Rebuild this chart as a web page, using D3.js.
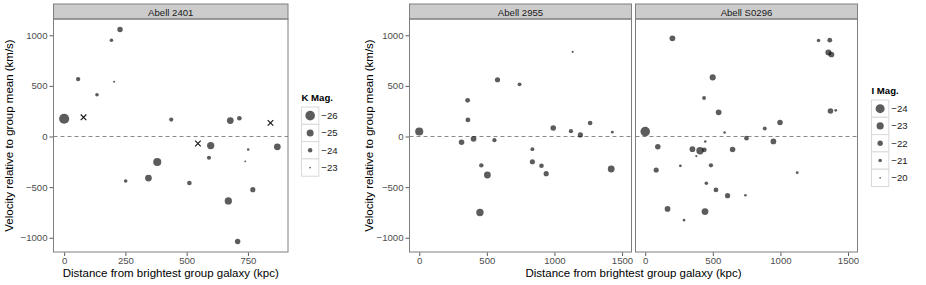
<!DOCTYPE html>
<html>
<head>
<meta charset="utf-8">
<script src="https://cdn.jsdelivr.net/npm/d3@7"></script>
<style>
  body { margin: 0; background: #fff; }
  svg text { font-family: "Liberation Sans", Arial, Helvetica, sans-serif; }
</style>
</head>
<body>
<div id="chart"></div>
<script>
// Abell 2401, K band magnitudes (null = no magnitude, drawn as a cross)
const a2401Dist = [0, 79, 57, 134, 193, 228, 204, 437, 678, 715, 842, 546, 598, 870, 591, 751, 739, 380, 251, 344, 511, 770, 670, 708];
const a2401Vel = [175, 190, 567, 413, 951, 1056, 541, 167, 157, 180, 134, -69, -89, -102, -210, -128, -246, -252, -439, -410, -459, -525, -636, -1036];
const a2401Mag = [-26.2, null, -24.0, -23.7, -23.7, -24.4, -23.1, -23.9, -24.9, -24.1, null, null, -25.1, -24.9, -23.9, -23.3, -23.0, -25.4, -23.7, -24.9, -24.1, -24.3, -25.1, -24.4];

// Abell 2955, I band
const a2955Dist = [0, 313, 358, 360, 402, 459, 504, 449, 556, 579, 742, 837, 837, 904, 939, 991, 1122, 1192, 1264, 1135, 1428, 1420];
const a2955Vel = [49, -56, 357, 164, -23, -285, -380, -751, -36, 561, 515, -125, -249, -289, -367, 85, 52, 16, 134, 836, 43, -321];
const a2955Mag = [-23.5, -22.1, -21.7, -21.7, -22.2, -21.5, -22.8, -23.1, -21.4, -21.9, -21.2, -21.2, -21.9, -21.6, -21.9, -22.1, -21.4, -21.9, -21.6, -20.3, -20.6, -22.8];

// Abell S0296, I band
const s0296Dist = [0, 201, 93, 81, 165, 287, 260, 349, 405, 437, 378, 444, 435, 499, 543, 486, 452, 523, 442, 587, 609, 646, 741, 749, 884, 948, 997, 1124, 1282, 1365, 1355, 1377, 1370, 1409];
const s0296Vel = [49, 970, -102, -331, -715, -826, -289, -125, -141, -131, -193, -49, 380, 584, 239, -285, -462, -528, -741, 39, -584, -128, -580, -16, 79, -49, 138, -357, 948, 951, 830, 810, 252, 259];
const s0296Mag = [-24.3, -22.2, -22.1, -21.9, -22.2, -20.5, -20.6, -22.2, -23.1, -21.7, -20.3, -20.5, -21.2, -22.4, -22.2, -21.4, -21.0, -21.7, -22.8, -20.5, -21.9, -22.1, -20.5, -21.6, -21.2, -22.2, -22.1, -20.6, -21.0, -21.7, -22.4, -22.2, -22.1, -20.6];

const velTicks = [-1000, -500, 0, 500, 1000];
const leftDistTicks = [0, 250, 500, 750];
const rightDistTicks = [0, 500, 1000, 1500];
const rightDistLimits = [-72, 1570];
const kMagLegend = [-26, -25, -24, -23];
const iMagLegend = [-24, -23, -22, -21, -20];

const yLabel = "Velocity relative to group mean (km/s)";
const xLabel = "Distance from brightest group galaxy (kpc)";

const width = 926, height = 285;
const panelTop = 19, panelBottom = 252;
const fmt = d3.format("d");

const svg = d3.select("#chart")
  .append("svg")
  .attr("width", width)
  .attr("height", height);

// ggplot style 5% expansion
function expand(ext) {
  const p = (ext[1] - ext[0]) * 0.05;
  return [ext[0] - p, ext[1] + p];
}

const y = d3.scaleLinear()
  .domain(expand(d3.extent(a2401Vel)))
  .range([panelBottom, panelTop]);

const kSize = d3.scaleLinear().domain([-23, -26]).range([0.9, 4.8]);
const iSize = d3.scaleLinear().domain([-20, -24]).range([0.85, 4.5]);

function drawPanel(name, left, right, domain, ticks, dist, vel, mag, size, showY) {
  const x = d3.scaleLinear().domain(domain).range([left, right]);
  const data = dist.map((d, i) => ({ d: d, v: vel[i], m: mag[i] }));
  const g = svg.append("g");

  // strip
  g.append("rect")
    .attr("x", left).attr("y", 4)
    .attr("width", right - left).attr("height", panelTop - 4)
    .attr("fill", "#cccccc").attr("stroke", "#7f7f7f").attr("stroke-width", 1);
  g.append("text")
    .attr("x", (left + right) / 2).attr("y", 15.5)
    .attr("text-anchor", "middle")
    .attr("font-size", 9.6).attr("fill", "#1a1a1a")
    .text(name);

  // zero line
  g.append("line")
    .attr("x1", left).attr("x2", right)
    .attr("y1", y(0)).attr("y2", y(0))
    .attr("stroke", "#888").attr("stroke-width", 1)
    .attr("stroke-dasharray", "4,3");

  // galaxies
  g.selectAll(".pt")
    .data(data.filter(p => p.m !== null))
    .enter().append("circle")
    .attr("class", "pt")
    .attr("cx", p => x(p.d))
    .attr("cy", p => y(p.v))
    .attr("r", p => size(p.m))
    .attr("fill", "#000")
    .attr("fill-opacity", 0.64);

  g.selectAll(".na")
    .data(data.filter(p => p.m === null))
    .enter().append("path")
    .attr("class", "na")
    .attr("transform", p => "translate(" + x(p.d) + "," + y(p.v) + ")")
    .attr("d", d3.symbol().type(d3.symbolX).size(22))
    .attr("fill", "none")
    .attr("stroke", "#111")
    .attr("stroke-width", 1.1);

  // panel border
  g.append("rect")
    .attr("x", left).attr("y", panelTop)
    .attr("width", right - left).attr("height", panelBottom - panelTop)
    .attr("fill", "none").attr("stroke", "#7f7f7f").attr("stroke-width", 1);

  // x axis
  const xa = g.append("g")
    .attr("transform", "translate(0," + (panelBottom + 0.5) + ")")
    .call(d3.axisBottom(x).tickValues(ticks).tickFormat(fmt).tickSize(3.5).tickPadding(1));
  styleAxis(xa);

  if (showY) {
    const ya = g.append("g")
      .attr("transform", "translate(" + (left - 0.5) + ",0)")
      .call(d3.axisLeft(y).tickValues(velTicks).tickFormat(fmt).tickSize(3.5).tickPadding(2));
    styleAxis(ya);
  }
}

function styleAxis(a) {
  a.select(".domain").remove();
  a.selectAll(".tick line").attr("stroke", "#333").attr("stroke-width", 0.8);
  a.selectAll(".tick text")
    .attr("font-size", 9.6)
    .attr("fill", "#4d4d4d")
    .attr("font-family", "Liberation Sans, Arial, sans-serif");
}

function drawLegend(title, left, topY, values, size) {
  const g = svg.append("g");
  g.append("text")
    .attr("x", left).attr("y", topY - 6)
    .attr("font-size", 9.6).attr("font-weight", "bold")
    .text(title);
  const key = 17.3;
  values.forEach((m, i) => {
    const ky = topY + i * key;
    g.append("rect")
      .attr("x", left).attr("y", ky)
      .attr("width", key).attr("height", key)
      .attr("fill", "#fff").attr("stroke", "#d9d9d9").attr("stroke-width", 1);
    g.append("circle")
      .attr("cx", left + key / 2).attr("cy", ky + key / 2)
      .attr("r", size(m))
      .attr("fill", "#000").attr("fill-opacity", 0.64);
    g.append("text")
      .attr("x", left + key + 2.5).attr("y", ky + key / 2 + 3.4)
      .attr("font-size", 9.6).attr("fill", "#1a1a1a")
      .text(fmt(m));
  });
}

function axisTitles(cx, ylx) {
  svg.append("text")
    .attr("x", cx).attr("y", 277)
    .attr("text-anchor", "middle")
    .attr("font-size", 11.5)
    .text(xLabel);
  svg.append("text")
    .attr("transform", "translate(" + ylx + "," + ((panelTop + panelBottom) / 2) + ")rotate(-90)")
    .attr("text-anchor", "middle")
    .attr("font-size", 11.5)
    .text(yLabel);
}

// left plot
drawPanel("Abell 2401", 53.5, 288, expand(d3.extent(a2401Dist)), leftDistTicks,
  a2401Dist, a2401Vel, a2401Mag, kSize, true);
drawLegend("K Mag.", 301.5, 107, kMagLegend, kSize);
axisTitles((53.5 + 288) / 2, 12.5);

// right plot
drawPanel("Abell 2955", 409.5, 631.5, rightDistLimits, rightDistTicks,
  a2955Dist, a2955Vel, a2955Mag, iSize, true);
drawPanel("Abell S0296", 635.5, 857.5, rightDistLimits, rightDistTicks,
  s0296Dist, s0296Vel, s0296Mag, iSize, false);
drawLegend("I Mag.", 871.5, 100, iMagLegend, iSize);
axisTitles((409.5 + 857.5) / 2, 372.5);
</script>
</body>
</html>
